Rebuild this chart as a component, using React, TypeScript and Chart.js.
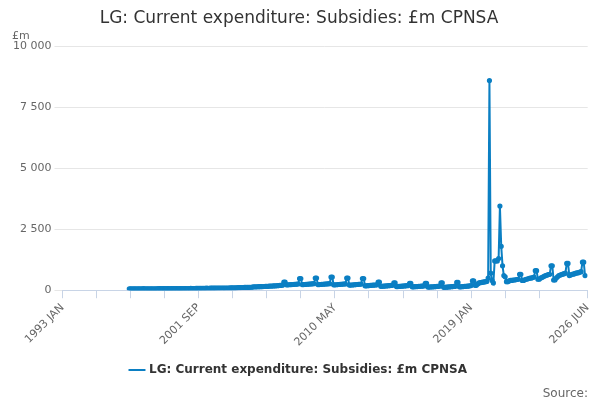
import React, { useEffect, useRef } from "react";
import { Chart, registerables } from "chart.js";
Chart.register(...registerables);

const START_INDEX = 51; // 1997 APR, months since 1993 JAN
const MONTHS = ["JAN","FEB","MAR","APR","MAY","JUN","JUL","AUG","SEP","OCT","NOV","DEC"];
const majorTicks = [0, 104, 208, 312, 401];
const minorTicks = [26, 52, 78, 130, 156, 182, 234, 260, 286, 338, 364];
// Fiscal years Apr..Mar
const values = [
  60,60,60,60,60,60,60,60,60,60,60,65,
  60,60,60,60,60,60,60,60,60,60,62,66,
  62,62,62,62,62,62,62,62,62,62,64,68,
  65,65,65,65,65,66,66,66,66,66,68,72,
  70,70,70,72,72,72,72,74,74,74,76,82,
  80,80,82,82,82,84,84,86,86,86,88,92,
  90,90,92,92,92,94,94,96,96,98,100,110,
  110,110,112,112,114,114,116,118,120,122,130,140,
  140,140,142,144,146,148,150,152,154,156,160,170,
  170,170,175,180,180,185,190,195,200,205,330,330,
  220,220,225,230,230,235,240,245,250,255,480,480,
  230,230,235,240,245,250,255,260,265,270,500,500,
  230,230,235,240,245,250,255,260,265,270,540,540,
  220,220,225,230,235,240,245,250,255,260,500,500,
  210,210,215,220,225,230,235,240,245,250,480,480,
  180,180,185,190,195,200,205,210,215,220,330,330,
  160,160,165,170,175,180,185,190,195,200,300,300,
  150,150,155,160,165,170,175,180,185,190,280,280,
  140,140,145,150,150,155,160,165,170,175,280,280,
  130,130,135,140,140,145,150,155,160,165,300,300,
  120,120,125,130,135,140,145,150,155,160,320,320,
  140,140,145,150,155,160,165,170,180,190,380,380,
  200,200,260,300,310,320,330,340,350,360,500,8600,
  700,400,300,1200,1200,1200,1300,3450,1800,1000,600,550,
  350,350,380,400,400,420,420,430,440,450,650,650,
  400,400,430,450,460,480,500,500,520,540,800,800,
  450,450,500,520,550,580,600,620,640,650,1000,1000,
  420,420,500,550,600,620,640,660,680,700,1100,1100,
  600,620,650,660,680,700,710,720,740,760,1150,1150,
  600,
];

function label(i: number) {
  const y = 1993 + Math.floor(i / 12);
  return `${y} ${MONTHS[i % 12]}`;
}

export default function App() {
  const ref = useRef<HTMLCanvasElement>(null);
  useEffect(() => {
    const data = values.map((v, k) => ({ x: START_INDEX + k, y: v }));
    const chart = new Chart(ref.current!, {
      type: "line",
      data: {
        datasets: [{
          label: "LG: Current expenditure: Subsidies: £m CPNSA",
          data,
          borderColor: "#0b7fc3",
          backgroundColor: "#0b7fc3",
          borderWidth: 2,
          pointRadius: 1.6,
          pointHoverRadius: 3,
          tension: 0,
        }],
      },
      options: {
        animation: false,
        responsive: false,
        layout: { padding: { left: 10, right: 12, top: 0, bottom: 14 } },
        plugins: {
          title: {
            display: true,
            text: "LG: Current expenditure: Subsidies: £m CPNSA",
            color: "#333",
            font: { family: "DejaVu Sans", size: 17, weight: "normal" },
            padding: { top: 8, bottom: 18 },
          },
          legend: {
            position: "bottom",
            labels: {
              usePointStyle: true,
              pointStyle: "line",
              color: "#333",
              font: { family: "DejaVu Sans", size: 12, weight: "bold" },
              boxWidth: 30,
              padding: 12,
            },
          },
          tooltip: { enabled: false },
        },
        scales: {
          x: {
            type: "linear",
            min: 0,
            max: 401,
            afterBuildTicks: (axis: any) => {
              axis.ticks = [...majorTicks, ...minorTicks].sort((a, b) => a - b).map((v) => ({ value: v }));
            },
            ticks: {
              autoSkip: false,
              maxRotation: 45,
              minRotation: 45,
              color: "#666",
              font: { family: "DejaVu Sans", size: 11 },
              callback: (v: any) => (majorTicks.includes(v) ? label(v) : ""),
            },
            grid: { display: true, drawOnChartArea: false, color: "#c8d4e6", tickLength: 8 },
            border: { color: "#c8d4e6" },
          },
          y: {
            min: 0,
            max: 10000,
            afterBuildTicks: (axis: any) => {
              axis.ticks = [0, 2500, 5000, 7500, 10000].map((v) => ({ value: v }));
            },
            ticks: {
              color: "#666",
              font: { family: "DejaVu Sans", size: 11 },
              callback: (v: any) => String(v).replace(/\B(?=(\d{3})+(?!\d))/g, " "),
            },
            grid: { color: "#e6e6e6" },
            border: { display: false },
          },
        },
      },
      plugins: [{
        id: "extras",
        afterDraw(c: any) {
          const ctx = c.ctx;
          ctx.save();
          ctx.fillStyle = "#666";
          ctx.font = "11px 'DejaVu Sans'";
          ctx.textAlign = "left";
          ctx.fillText("£m", 12, 36);
          ctx.font = "12px 'DejaVu Sans'";
          ctx.textAlign = "right";
          ctx.fillText("Source:", 588, 394);
          ctx.restore();
        },
      }],
    } as any);
    return () => chart.destroy();
  }, []);
  return <canvas ref={ref} width={600} height={400} style={{ position: "absolute", left: 0, top: 0 }} />;
}
